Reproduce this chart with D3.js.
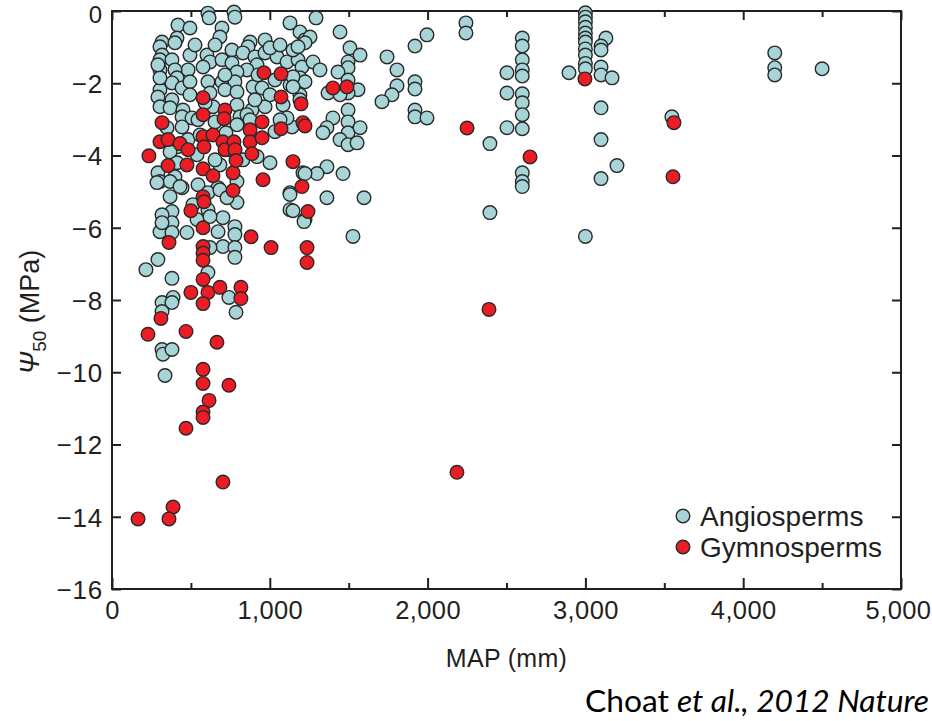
<!DOCTYPE html>
<html>
<head>
<meta charset="utf-8">
<script src="https://cdn.jsdelivr.net/npm/d3@7"></script>
<style>
  html, body { margin: 0; padding: 0; background: #ffffff; }
  svg { display: block; }
</style>
</head>
<body>
<svg id="chart" width="932" height="721"></svg>
<script>
// Xylem vulnerability (Ψ50) against mean annual precipitation (MAP)
const xMajorTicks = [0, 1000, 2000, 3000, 4000, 5000];
const xMinorTicks = [500, 1500, 2500, 3500, 4500];
const yTicks = [0, -2, -4, -6, -8, -10, -12, -14, -16];
const legendLabels = ["Angiosperms", "Gymnosperms"];

// [MAP (mm), Ψ50 (MPa)]
const angiosperms = [
  [608,-0.06],[615,-0.19],[773,-0.03],[779,-0.17],[418,-0.39],[494,-0.47],[697,-0.47],[684,-0.72],
  [412,-0.75],[317,-0.86],[399,-0.88],[304,-0.99],[875,-0.86],[862,-0.99],[1128,-0.33],[1191,-0.58],
  [1223,-0.80],[317,-1.22],[304,-1.35],[304,-1.63],[380,-1.35],[494,-1.22],[602,-1.22],[621,-1.41],
  [697,-1.35],[760,-1.08],[760,-1.44],[830,-1.16],[906,-1.27],[970,-1.16],[1046,-1.27],[1109,-1.41],
  [1179,-1.35],[1204,-1.55],[919,-1.49],[855,-1.63],[792,-1.69],[577,-1.55],[482,-1.63],[399,-1.63],
  [412,-1.85],[380,-1.99],[304,-2.18],[444,-2.13],[494,-1.96],[608,-1.96],[697,-1.96],[779,-1.96],
  [716,-2.18],[792,-2.24],[894,-2.10],[951,-2.13],[621,-2.27],[494,-2.32],[380,-2.46],[291,-2.38],
  [304,-2.65],[368,-2.68],[450,-2.74],[444,-2.93],[507,-2.96],[640,-2.65],[792,-2.60],[887,-2.74],
  [970,-2.65],[811,-2.93],[792,-3.15],[653,-3.07],[349,-3.23],[444,-3.21],[545,-3.01],[855,-2.87],
  [1141,-3.21],[482,-3.56],[412,-3.76],[368,-3.90],[291,-4.48],[412,-4.20],[684,-4.26],[830,-4.12],
  [919,-4.03],[1001,-4.20],[1210,-4.48],[304,-4.72],[399,-4.59],[368,-4.72],[444,-4.89],[545,-4.81],
  [672,-4.89],[792,-4.72],[1128,-5.03],[368,-5.14],[608,-5.03],
  [526,-0.94],[653,-0.94],[970,-0.80],[1001,-1.02],[1065,-0.94],[1147,-1.08],[590,-2.54],[716,-1.77],
  [925,-1.77],[1033,-1.91],[1128,-2.05],[1191,-2.32],[1084,-2.60],[722,-3.37],[875,-3.01],[558,-3.43],
  [1033,-3.34],[1109,-2.96],[735,-3.84],[653,-4.12],[539,-3.98],[304,-1.85],[291,-1.49],
  [906,-2.46],[1001,-2.32],[1065,-3.01],
  [285,-4.75],[431,-4.86],[684,-4.95],[792,-5.30],[729,-5.17],[380,-5.55],[380,-5.86],[304,-6.11],
  [475,-6.13],[380,-6.13],[608,-5.50],[703,-5.72],[672,-6.11],[779,-5.97],[779,-6.19],[703,-6.52],
  [779,-6.55],[779,-6.82],[621,-6.55],[1128,-5.08],[1128,-5.50],[1223,-5.77],[291,-6.88],[215,-7.16],
  [380,-7.40],[608,-7.24],[317,-8.07],[387,-7.93],[380,-8.07],[741,-7.93],[786,-8.34],[317,-8.32],
  [317,-9.37],[323,-9.50],[380,-9.37],[336,-10.09],[317,-5.64],[317,-5.86],[513,-5.36],[539,-5.77],
  [621,-5.69],
  [1293,-0.19],[1445,-0.58],[1255,-0.72],[1223,-0.88],[1179,-0.99],[1274,-1.41],[1318,-1.63],
  [1191,-1.85],[1223,-1.96],[1147,-1.82],[1147,-2.10],[1191,-2.46],[1508,-1.02],[1572,-1.22],
  [1496,-1.41],[1496,-1.57],[1432,-1.69],[1559,-2.18],[1496,-2.27],[1369,-2.27],[1445,-2.32],
  [1496,-1.91],[1743,-1.27],[1806,-1.63],[1806,-2.07],[1774,-2.32],[1711,-2.51],[1920,-0.97],
  [1996,-0.66],[1920,-1.96],[1920,-2.16],[1920,-2.74],[1920,-2.93],[1996,-2.96],[2243,-0.33],
  [2243,-0.61],[2503,-1.71],[2503,-2.27],
  [2600,-0.75],[2600,-0.97],[2600,-1.35],[2600,-1.63],[2600,-1.80],[2600,-2.29],[2600,-2.54],
  [2600,-2.87],[2600,-3.26],[2503,-3.23],[2395,-3.67],[2600,-4.48],[2600,-4.72],[2600,-4.86],
  [2395,-5.58],[2896,-1.71],
  [3000,-0.05],[3000,-0.17],[3000,-0.30],[3000,-0.45],[3000,-0.61],[3000,-0.75],[3000,-0.86],
  [3000,-1.05],[3000,-1.22],[3000,-1.45],[3000,-1.60],[3000,-6.24],[1527,-6.24],
  [1400,-2.96],[1362,-3.23],[1337,-3.37],[1496,-2.74],[1496,-3.07],[1496,-3.37],[1572,-3.23],
  [1445,-3.56],[1496,-3.70],[1553,-3.65],[1362,-4.31],[1299,-4.50],[1223,-4.50],[1464,-4.50],
  [1362,-5.17],[1597,-5.17],[1147,-5.53],[1217,-5.83],
  [3130,-0.75],[3099,-0.97],[3099,-1.08],[3099,-1.55],[3099,-1.77],[3169,-1.85],[3099,-2.68],
  [3548,-2.93],[3099,-3.56],[3200,-4.28],[3099,-4.64],[4200,-1.16],[4200,-1.57],[4200,-1.77],
  [4500,-1.60]
];

const gymnosperms = [
  [963,-1.71],[1071,-1.74],[1071,-2.38],[1198,-2.57],[577,-2.40],[577,-2.87],[716,-2.74],[710,-2.98],
  [317,-3.09],[951,-3.07],[1071,-3.26],[1210,-3.09],[1223,-3.18],[304,-3.62],[355,-3.56],[431,-3.67],
  [482,-3.84],[577,-3.48],[583,-3.76],[640,-3.43],[703,-3.62],[716,-3.84],[773,-3.62],[780,-3.84],
  [875,-3.29],[875,-3.62],[951,-3.51],[887,-3.95],[234,-4.01],[355,-4.28],[475,-4.26],[577,-4.37],
  [640,-4.56],[767,-4.48],[786,-4.14],[767,-4.97],[957,-4.67],[1147,-4.17],[1204,-4.86],[577,-5.14],
  [583,-5.28],[500,-5.53],[577,-6.00],[361,-6.41],[881,-6.25],[1008,-6.55],[1236,-6.55],[1236,-6.96],
  [577,-6.52],[577,-6.70],[577,-6.90],[577,-7.43],[500,-7.79],[608,-7.79],[684,-7.65],[817,-7.65],
  [817,-7.96],[577,-8.10],[310,-8.51],[228,-8.95],[469,-8.87],[665,-9.17],[577,-9.92],[577,-10.31],
  [741,-10.36],[615,-10.78],[577,-11.10],[577,-11.25],[469,-11.55],[703,-13.04],[387,-13.73],
  [361,-14.06],[165,-14.06],[1400,-2.13],[1489,-2.10],[2250,-3.24],[2649,-4.04],[1242,-5.55],
  [2997,-1.88],[3561,-3.09],[3555,-4.59],[2389,-8.26],[2186,-12.77]
];

const colors = { angio: "#a7d5d7", gymno: "#ec1c24", stroke: "#2a2a2a", ink: "#231f20" };

const svg = d3.select("#chart");
const plot = { left: 112, right: 901, top: 11, bottom: 589 };

const x = d3.scaleLinear().domain([0, 5000]).range([plot.left, plot.right]);
const y = d3.scaleLinear().domain([-16, 0]).range([plot.bottom, plot.top]);

const tickFont = "'Liberation Sans', Arial, Helvetica, sans-serif";
const minus = d => (d < 0 ? "\u2212" + Math.abs(d) : String(d));

function styleAxis(g) {
  g.select(".domain").remove();
  g.selectAll(".tick line").attr("stroke", colors.ink).attr("stroke-width", 2);
  g.selectAll("text")
    .attr("fill", colors.ink)
    .style("font-family", tickFont)
    .style("font-size", "26px")
    .style("letter-spacing", "0.8px");
}

// bottom axis: labelled majors, short minors, all pointing inward
svg.append("g")
  .attr("transform", `translate(0,${plot.bottom})`)
  .call(d3.axisBottom(x).tickValues(xMajorTicks).tickSize(-11).tickPadding(12).tickFormat(d3.format(",")))
  .call(styleAxis)
  .call(g => g.selectAll("text")
    .style("font-size", "25.5px")
    .style("letter-spacing", "0.4px")
    .attr("dx", d => (d === 5000 ? -3 : 0)));
svg.append("g")
  .attr("transform", `translate(0,${plot.bottom})`)
  .call(d3.axisBottom(x).tickValues(xMinorTicks).tickSize(-6).tickFormat(""))
  .call(styleAxis);

// top axis ticks
svg.append("g")
  .attr("transform", `translate(0,${plot.top})`)
  .call(d3.axisTop(x).tickValues(xMajorTicks).tickSize(-9).tickFormat(""))
  .call(styleAxis);
svg.append("g")
  .attr("transform", `translate(0,${plot.top})`)
  .call(d3.axisTop(x).tickValues(xMinorTicks).tickSize(-6).tickFormat(""))
  .call(styleAxis);

// left axis with labels; the topmost label sits flush with the page edge
svg.append("g")
  .attr("transform", `translate(${plot.left},0)`)
  .call(d3.axisLeft(y).tickValues(yTicks).tickSize(-9).tickPadding(9).tickFormat(minus))
  .call(styleAxis)
  .call(g => g.selectAll("text")
    .attr("dy", d => (d === 0 ? "0.46em" : "0.36em"))
    .style("font-size", d => (d === 0 ? "24px" : "26px")));

// right axis ticks
svg.append("g")
  .attr("transform", `translate(${plot.right},0)`)
  .call(d3.axisRight(y).tickValues(yTicks).tickSize(-9).tickFormat(""))
  .call(styleAxis);

// frame
svg.append("rect")
  .attr("x", plot.left).attr("y", plot.top)
  .attr("width", plot.right - plot.left).attr("height", plot.bottom - plot.top)
  .attr("fill", "none").attr("stroke", colors.ink).attr("stroke-width", 2);

// points
const r = 6.8;
function drawPoints(data, fill) {
  svg.append("g").selectAll("circle")
    .data(data)
    .join("circle")
    .attr("cx", d => x(d[0]))
    .attr("cy", d => y(d[1]))
    .attr("r", r)
    .attr("fill", fill)
    .attr("stroke", colors.stroke)
    .attr("stroke-width", 1.4);
}
drawPoints(angiosperms, colors.angio);
drawPoints(gymnosperms, colors.gymno);

// legend
const legend = svg.append("g").attr("transform", "translate(683,516)");
legendLabels.forEach((label, i) => {
  const row = legend.append("g").attr("transform", `translate(0,${i * 31})`);
  row.append("circle").attr("r", r)
    .attr("fill", i === 0 ? colors.angio : colors.gymno)
    .attr("stroke", colors.stroke).attr("stroke-width", 1.4);
  row.append("text").attr("x", 17).attr("y", 10)
    .attr("fill", colors.ink)
    .style("font-family", tickFont).style("font-size", "28px")
    .text(label);
});

// axis titles
svg.append("text")
  .attr("x", (plot.left + plot.right) / 2).attr("y", 667)
  .attr("text-anchor", "middle").attr("fill", colors.ink)
  .style("font-family", tickFont).style("font-size", "25px")
  .style("letter-spacing", "0.3px")
  .text("MAP (mm)");

const yTitle = svg.append("text")
  .attr("transform", "translate(39,312) rotate(-90)")
  .attr("text-anchor", "middle").attr("fill", colors.ink)
  .style("font-family", tickFont).style("font-size", "27px");
yTitle.append("tspan").style("font-style", "italic").text("\u03A8");
yTitle.append("tspan").attr("dy", 7).style("font-size", "19px").text("50");
yTitle.append("tspan").attr("dy", -7).text(" (MPa)");

// source note
const src = svg.append("text")
  .attr("x", 585).attr("y", 712)
  .attr("textLength", 344).attr("lengthAdjust", "spacingAndGlyphs")
  .attr("fill", "#000")
  .style("font-family", "Lato, 'Open Sans', sans-serif").style("font-size", "31px");
src.append("tspan").text("Choat ");
src.append("tspan").style("font-style", "italic").text("et al., 2012 Nature");
</script>
</body>
</html>
